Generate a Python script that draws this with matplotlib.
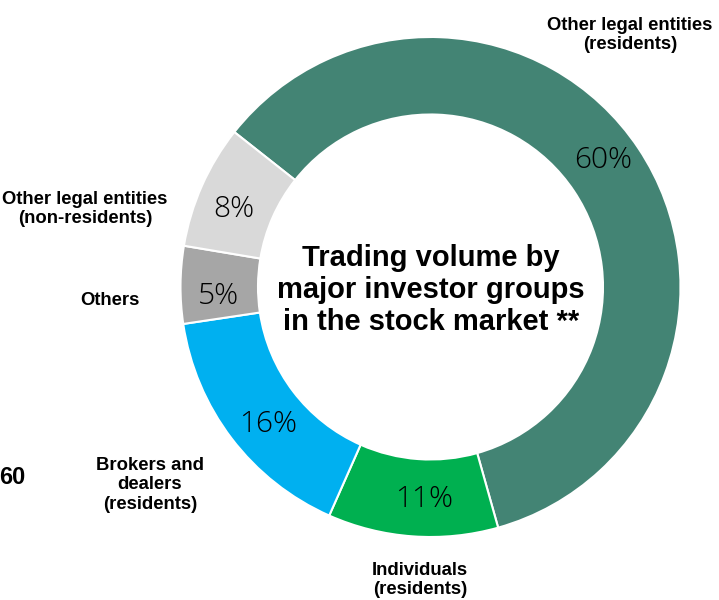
import matplotlib
matplotlib.use("Agg")
import matplotlib.pyplot as plt

categories = ["Other legal entities\n(residents)", "Individuals\n(residents)",
              "Brokers and\ndealers\n(residents)", "Others",
              "Other legal entities\n(non-residents)"]
values = [60, 11, 16, 5, 8]
colors = ["#438474", "#00B050", "#00B0F0", "#A6A6A6", "#D9D9D9"]
center_title = "Trading volume by\nmajor investor groups\nin the stock market **"
side_number = "60"

W, H = 719, 600
fig = plt.figure(figsize=(W / 100, H / 100), dpi=100)
ax = fig.add_axes([0, 0, 1, 1])

cx, cy, R = 430.5, 287, 250  # pixel centre and radius


def px(x, y):
    return ((x - cx) / R, (cy - y) / R)


wedges, texts, autotexts = ax.pie(
    values, colors=colors, startangle=141.7, counterclock=False,
    radius=1.0, autopct=lambda p: f"{p:.0f}%", pctdistance=0.85,
    wedgeprops=dict(width=0.31, edgecolor="white", linewidth=1.5),
    textprops=dict(fontsize=21.5, family="Open Sans", fontweight="light",
                   color="#000000"))
pct_pos = [(603, 160), (424, 499), (268, 424), (218, 296), (234, 209)]
for t, (x, y) in zip(autotexts, pct_pos):
    t.set_position(px(x, y))
    t.set_va("center")
    t.set_ha("center")

ax.set_aspect("equal")
ax.set_xlim(-cx / R, (W - cx) / R)
ax.set_ylim(-(H - cy) / R, cy / R)
ax.axis("off")

lab_pos = [(630, 35), (420, 580), (150, 485), (110, 301), (85, 209)]
for lab, (x, y) in zip(categories, lab_pos):
    ax.text(*px(x, y), lab, ha="center", va="center", fontsize=13.3,
            fontweight="bold", family="Liberation Sans", linespacing=1.2)

ax.text(*px(431, 290), center_title, ha="center", va="center", fontsize=21,
        fontweight="bold", family="Liberation Sans", linespacing=1.2)

ax.text(*px(25, 478), side_number, ha="right", va="center", fontsize=17,
        fontweight="bold", family="Liberation Sans")

fig.savefig("out.png", dpi=100)
